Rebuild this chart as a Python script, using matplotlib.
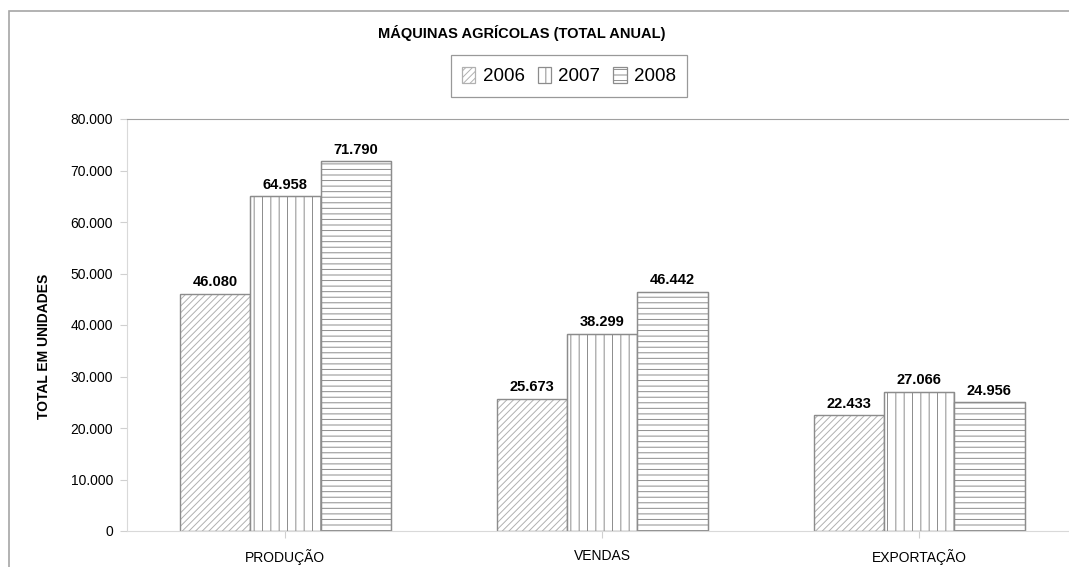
import numpy as np
import matplotlib
matplotlib.use("Agg")
import matplotlib.pyplot as plt
from matplotlib.patches import Rectangle

categories = ["PRODUÇÃO", "VENDAS", "EXPORTAÇÃO"]
years = ["2006", "2007", "2008"]
values_2006 = [46080, 25673, 22433]
values_2007 = [64958, 38299, 27066]
values_2008 = [71790, 46442, 24956]
yticks = [0, 10000, 20000, 30000, 40000, 50000, 60000, 70000, 80000]

narrow = ["Liberation Sans Narrow", "Liberation Sans", "DejaVu Sans"]
regular = ["Liberation Sans", "DejaVu Sans"]

plt.rcParams["hatch.linewidth"] = 0.7

fig = plt.figure(figsize=(10.69, 5.67), dpi=100)
ax = fig.add_axes([127 / 1069, 1 - 531 / 567, 950.5 / 1069, (531 - 119) / 567])

# outer frame of the original chart object
fig.patches.append(Rectangle((9 / 1069, -0.1), 1.2, 1 - 11 / 567 + 0.1,
                             transform=fig.transFigure, fill=False,
                             edgecolor="#a6a6a6", linewidth=1.2))

x = np.arange(len(categories))
w = 0.222
hatches = ["/////", "||", "---"]
hatch_cols = ["#b0b0b0", "#8c8c8c", "#8c8c8c"]
series = [values_2006, values_2007, values_2008]
for i, (vals, h) in enumerate(zip(series, hatches)):
    ax.bar(x + (i - 1) * w, vals, w, color="white", edgecolor=hatch_cols[i],
           hatch=h, linewidth=0.9, label=years[i])
    # crisp darker outline on top of the hatch
    ax.bar(x + (i - 1) * w, vals, w, fill=False, edgecolor="#8c8c8c", linewidth=0.9)
    for xi, v in zip(x + (i - 1) * w, vals):
        ax.text(xi, v + 900, f"{v:,}".replace(",", "."), ha="center", va="bottom",
                fontsize=10.5, fontweight="bold", family=narrow)

ax.set_xlim(-0.5, 2.5)
ax.set_ylim(0, 80000)
ax.set_yticks(yticks)
ax.set_yticklabels([f"{t:,}".replace(",", ".") for t in yticks], family=regular, fontsize=10)
ax.set_xticks(x)
ax.set_xticklabels(categories, family=narrow, fontsize=10)
ax.tick_params(axis="y", length=5, color="#d0d0d0", pad=5)
ax.tick_params(axis="x", length=5, color="#d0d0d0", pad=8)

for s in ["left", "bottom"]:
    ax.spines[s].set_color("#d9d9d9")
ax.spines["top"].set_color("#a0a0a0")
ax.spines["right"].set_color("#a0a0a0")

ax.set_ylabel("TOTAL EM UNIDADES", fontsize=10, fontweight="bold", family=regular)
ax.yaxis.set_label_coords((51 - 127) / 950.5, (531 - 346) / 412)

fig.text(522 / 1069, 1 - 33 / 567, "MÁQUINAS AGRÍCOLAS (TOTAL ANUAL)", ha="center", va="center",
         fontsize=10.5, fontweight="bold", family=narrow)

leg = fig.legend(loc="center", bbox_to_anchor=(569 / 1069, 1 - 76 / 567), ncol=3,
                 prop={"family": narrow, "size": 13.5}, frameon=True, fancybox=False,
                 handlelength=0.7, handleheight=1.0, handletextpad=0.4, columnspacing=0.7,
                 borderpad=0.6)
leg.get_frame().set_edgecolor("#808080")
leg.get_frame().set_linewidth(0.9)

fig.savefig("out.png", dpi=100)
